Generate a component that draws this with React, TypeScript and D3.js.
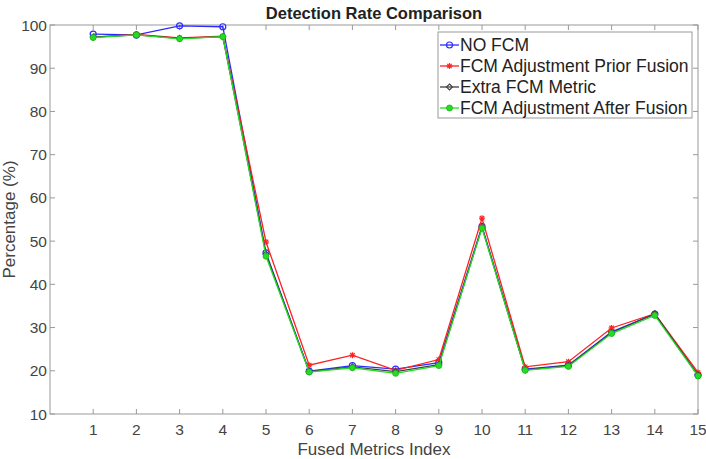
import React from "react";
import * as d3 from "d3";

const indices = [1, 2, 3, 4, 5, 6, 7, 8, 9, 10, 11, 12, 13, 14, 15];
const noFcm = [97.9, 97.7, 99.8, 99.6, 47.3, 19.9, 21.2, 20.4, 21.9, 53.4, 20.4, 21.3, 29.0, 33.1, 19.0];
const priorFusion = [97.2, 97.8, 97.0, 97.4, 49.8, 21.3, 23.6, 20.1, 22.6, 55.3, 20.9, 22.1, 29.9, 33.2, 19.6];
const extraMetric = [97.2, 97.7, 96.9, 97.3, 47.0, 19.8, 20.9, 19.8, 21.4, 53.2, 20.2, 21.2, 28.8, 33.2, 19.0];
const afterFusion = [97.1, 97.7, 96.8, 97.3, 46.5, 19.7, 20.7, 19.4, 21.2, 53.0, 20.1, 21.0, 28.6, 32.8, 18.8];
const yTicks = [10, 20, 30, 40, 50, 60, 70, 80, 90, 100];
const seriesNames = ["NO FCM", "FCM Adjustment Prior Fusion", "Extra FCM Metric", "FCM Adjustment After Fusion"];

const W = 706;
const H = 459;
const M = { left: 50, right: 8, top: 25, bottom: 45 };
const FONT = "'Liberation Sans', Arial, Helvetica, sans-serif";

type Series = { name: string; values: number[]; color: string; marker: "open" | "star" | "diamond" | "dot" };

const series: Series[] = [
  { name: seriesNames[0], values: noFcm, color: "#2b2bff", marker: "open" },
  { name: seriesNames[1], values: priorFusion, color: "#ff2020", marker: "star" },
  { name: seriesNames[2], values: extraMetric, color: "#404040", marker: "diamond" },
  { name: seriesNames[3], values: afterFusion, color: "#22dd22", marker: "dot" },
];

function Marker({ kind, x, y, color }: { kind: Series["marker"]; x: number; y: number; color: string }) {
  if (kind === "open") return <circle cx={x} cy={y} r={3} fill="none" stroke={color} strokeWidth={1.2} />;
  if (kind === "star")
    return (
      <g stroke={color} strokeWidth={1.2}>
        <line x1={x - 3} y1={y} x2={x + 3} y2={y} />
        <line x1={x} y1={y - 3} x2={x} y2={y + 3} />
        <line x1={x - 2.2} y1={y - 2.2} x2={x + 2.2} y2={y + 2.2} />
        <line x1={x - 2.2} y1={y + 2.2} x2={x + 2.2} y2={y - 2.2} />
      </g>
    );
  if (kind === "diamond")
    return <path d={`M${x},${y - 3}L${x + 3},${y}L${x},${y + 3}L${x - 3},${y}Z`} fill="none" stroke={color} strokeWidth={1.1} />;
  return <circle cx={x} cy={y} r={3} fill={color} stroke={d3.color(color)!.darker(0.6).toString()} strokeWidth={0.8} />;
}

export default function App() {
  const x = d3.scaleLinear().domain([0, 15]).range([M.left, W - M.right]);
  const y = d3.scaleLinear().domain([10, 100]).range([H - M.bottom, M.top]);
  const line = d3
    .line<number>()
    .x((_, i) => x(indices[i]))
    .y((v) => y(v));

  const axisColor = "#9a9a9a";
  const textColor = "#444";
  const tickLen = 5;
  const x0 = x(0);
  const x1 = x(15);
  const y0 = y(10);
  const y1 = y(100);

  const legX = 438;
  const legY = 32;
  const legW = 254;
  const legH = 86;

  return (
    <svg width={W} height={H} style={{ position: "absolute", left: 0, top: 0, background: "#fff" }}>
      <text x={(x0 + x1) / 2} y={19} textAnchor="middle" fontFamily={FONT} fontWeight="bold" fontSize={16.5} fill="#222">
        Detection Rate Comparison
      </text>

      {/* axes box */}
      <rect x={x0} y={y1} width={x1 - x0} height={y0 - y1} fill="none" stroke={axisColor} strokeWidth={1} />

      {/* x ticks */}
      {indices.map((t) => (
        <g key={`xt${t}`}>
          <line x1={x(t)} x2={x(t)} y1={y0} y2={y0 - tickLen} stroke={axisColor} />
          <line x1={x(t)} x2={x(t)} y1={y1} y2={y1 + tickLen} stroke={axisColor} />
          <text x={x(t)} y={y0 + 21} textAnchor="middle" fontFamily={FONT} fontSize={15.5} fill={textColor}>
            {t}
          </text>
        </g>
      ))}

      {/* y ticks */}
      {yTicks.map((t) => (
        <g key={`yt${t}`}>
          <line x1={x0} x2={x0 + tickLen} y1={y(t)} y2={y(t)} stroke={axisColor} />
          <line x1={x1} x2={x1 - tickLen} y1={y(t)} y2={y(t)} stroke={axisColor} />
          <text x={x0 - 3} y={y(t) + 5.5} textAnchor="end" fontFamily={FONT} fontSize={15.5} fill={textColor}>
            {t}
          </text>
        </g>
      ))}

      <text x={(x0 + x1) / 2} y={H - 4} textAnchor="middle" fontFamily={FONT} fontSize={17} fill={textColor}>
        Fused Metrics Index
      </text>
      <text
        transform={`translate(15, ${(y0 + y1) / 2}) rotate(-90)`}
        textAnchor="middle"
        fontFamily={FONT}
        fontSize={17}
        fill={textColor}
      >
        Percentage (%)
      </text>

      {/* series */}
      {series.map((s) => (
        <g key={s.name}>
          <path d={line(s.values) || ""} fill="none" stroke={s.color} strokeWidth={1.3} />
          {s.values.map((v, i) => (
            <Marker key={i} kind={s.marker} x={x(indices[i])} y={y(v)} color={s.color} />
          ))}
        </g>
      ))}

      {/* legend */}
      <rect x={legX} y={legY} width={legW} height={legH} fill="#fff" stroke={axisColor} />
      {series.map((s, i) => {
        const cy = legY + 13 + i * 21;
        return (
          <g key={`leg${i}`}>
            <line x1={legX + 2} x2={legX + 21} y1={cy} y2={cy} stroke={s.color} strokeWidth={1.3} />
            <Marker kind={s.marker} x={legX + 11.5} y={cy} color={s.color} />
            <text x={legX + 22} y={cy + 6} fontFamily={FONT} fontSize={17.5} fill="#222">
              {s.name}
            </text>
          </g>
        );
      })}
    </svg>
  );
}
